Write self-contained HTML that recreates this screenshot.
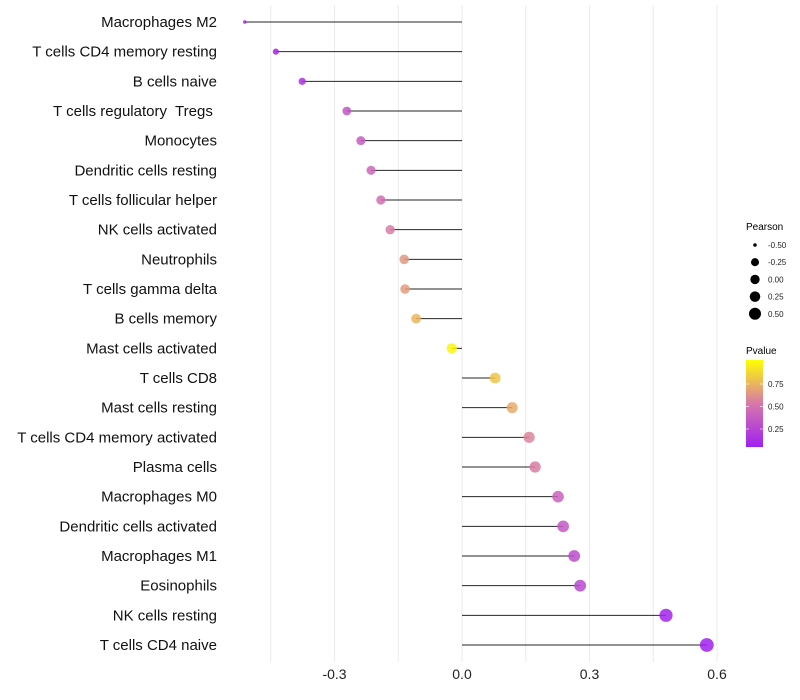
<!DOCTYPE html>
<html><head><meta charset="utf-8"><style>
body{margin:0;background:#fff}
svg{display:block;font-family:"Liberation Sans",sans-serif}
text{white-space:pre}
</style></head><body>
<svg id="chart" width="800" height="700"></svg>
<script>
const categories=["Macrophages M2","T cells CD4 memory resting","B cells naive","T cells regulatory  Tregs ","Monocytes","Dendritic cells resting","T cells follicular helper","NK cells activated","Neutrophils","T cells gamma delta","B cells memory","Mast cells activated","T cells CD8","Mast cells resting","T cells CD4 memory activated","Plasma cells","Macrophages M0","Dendritic cells activated","Macrophages M1","Eosinophils","NK cells resting","T cells CD4 naive"];
const pearson=[-0.511,-0.438,-0.376,-0.271,-0.238,-0.214,-0.191,-0.169,-0.136,-0.134,-0.108,-0.024,0.078,0.118,0.158,0.172,0.226,0.238,0.264,0.278,0.48,0.576];
const pvalues=[0.02,0.06,0.12,0.32,0.36,0.4,0.46,0.52,0.62,0.63,0.72,0.95,0.78,0.68,0.55,0.52,0.38,0.33,0.27,0.25,0.05,0.02];
const xTicks=[-0.3,0,0.3,0.6];
const xTickLabels=["-0.3","0.0","0.3","0.6"];
const sizeLegend=[-0.5,-0.25,0,0.25,0.5];
const sizeLegendLabels=["-0.50","-0.25","0.00","0.25","0.50"];
const colorTicks=[0.25,0.5,0.75];

const NS="http://www.w3.org/2000/svg";
const svg=document.getElementById('chart');
function mk(t,a,p){const e=document.createElementNS(NS,t);for(const k in a)e.setAttribute(k,a[k]);(p||svg).appendChild(e);return e;}
const x=v=>462+v*425;
const y=i=>22+i*(623/21);
const rv=[-0.52,-0.44,-0.38,-0.27,0,0.3,0.6], rr=[1.6,3.1,3.6,4.4,5.2,6,7];
function r(v){if(v<=rv[0])return rr[0];for(let k=1;k<rv.length;k++){if(v<=rv[k]){const u=(v-rv[k-1])/(rv[k]-rv[k-1]);return rr[k-1]+u*(rr[k]-rr[k-1]);}}return rr[rr.length-1];}
function col(p){const t=Math.max(0,Math.min(1,(p-0.03)/0.95));
 const s=[[160,32,240],[215,120,170],[255,255,0]];
 let a,b,u;if(t<0.5){a=s[0];b=s[1];u=t/0.5}else{a=s[1];b=s[2];u=(t-0.5)/0.5}
 return `rgb(${a.map((c,i)=>Math.round(c+(b[i]-c)*u)).join(',')})`;}
for(let g=-0.45;g<=0.61;g+=0.15){const l=mk('line',{x1:x(g),x2:x(g),y1:5,y2:662,stroke:'#ebebeb','stroke-width':1});
}
xTicks.forEach((t,i)=>{const e=mk('text',{x:x(t),y:679,'text-anchor':'middle','font-size':14,fill:'#222'});e.textContent=xTickLabels[i];
});
categories.forEach((c,i)=>{
 const t=mk('text',{x:217,y:y(i)+5,'text-anchor':'end','font-size':15,fill:'#111','xml:space':'preserve'});t.textContent=c;
 
 const l=mk('line',{x1:x(0),x2:x(pearson[i]),y1:y(i),y2:y(i),stroke:'#000','stroke-width':1,'stroke-opacity':0.85});
 
 const p=mk('circle',{cx:x(pearson[i]),cy:y(i),r:r(pearson[i]),fill:col(pvalues[i]),'fill-opacity':0.85});
 
});
const lt=mk('text',{x:746,y:230,'font-size':10,fill:'#000'});lt.textContent='Pearson';

sizeLegend.forEach((v,i)=>{const cy=245+i*17.2;
 const c=mk('circle',{cx:755,cy:cy,r:r(v)*0.9,fill:'#000'});
 const t=mk('text',{x:768,y:cy+3,'font-size':8,fill:'#222'});t.textContent=sizeLegendLabels[i];
 });
const ct=mk('text',{x:746,y:354,'font-size':10,fill:'#000'});ct.textContent='Pvalue';

const defs=mk('defs',{});const lg=mk('linearGradient',{id:'pg',x1:0,y1:1,x2:0,y2:0},defs);
for(let k=0;k<=10;k++){mk('stop',{offset:k/10,'stop-color':col(0.03+k*0.095)},lg);}
const bar=mk('rect',{x:746,y:360,width:17,height:87,fill:'url(#pg)'});

colorTicks.forEach(v=>{const cy=447-(v-0.05)/0.25*22.5;
 mk('line',{x1:746,x2:749,y1:cy,y2:cy,stroke:'#fff','stroke-width':0.6});mk('line',{x1:760,x2:763,y1:cy,y2:cy,stroke:'#fff','stroke-width':0.6});
 const t=mk('text',{x:768,y:cy+3,'font-size':8,fill:'#222'});t.textContent=v.toFixed(2);
 });
</script>
</body></html>
